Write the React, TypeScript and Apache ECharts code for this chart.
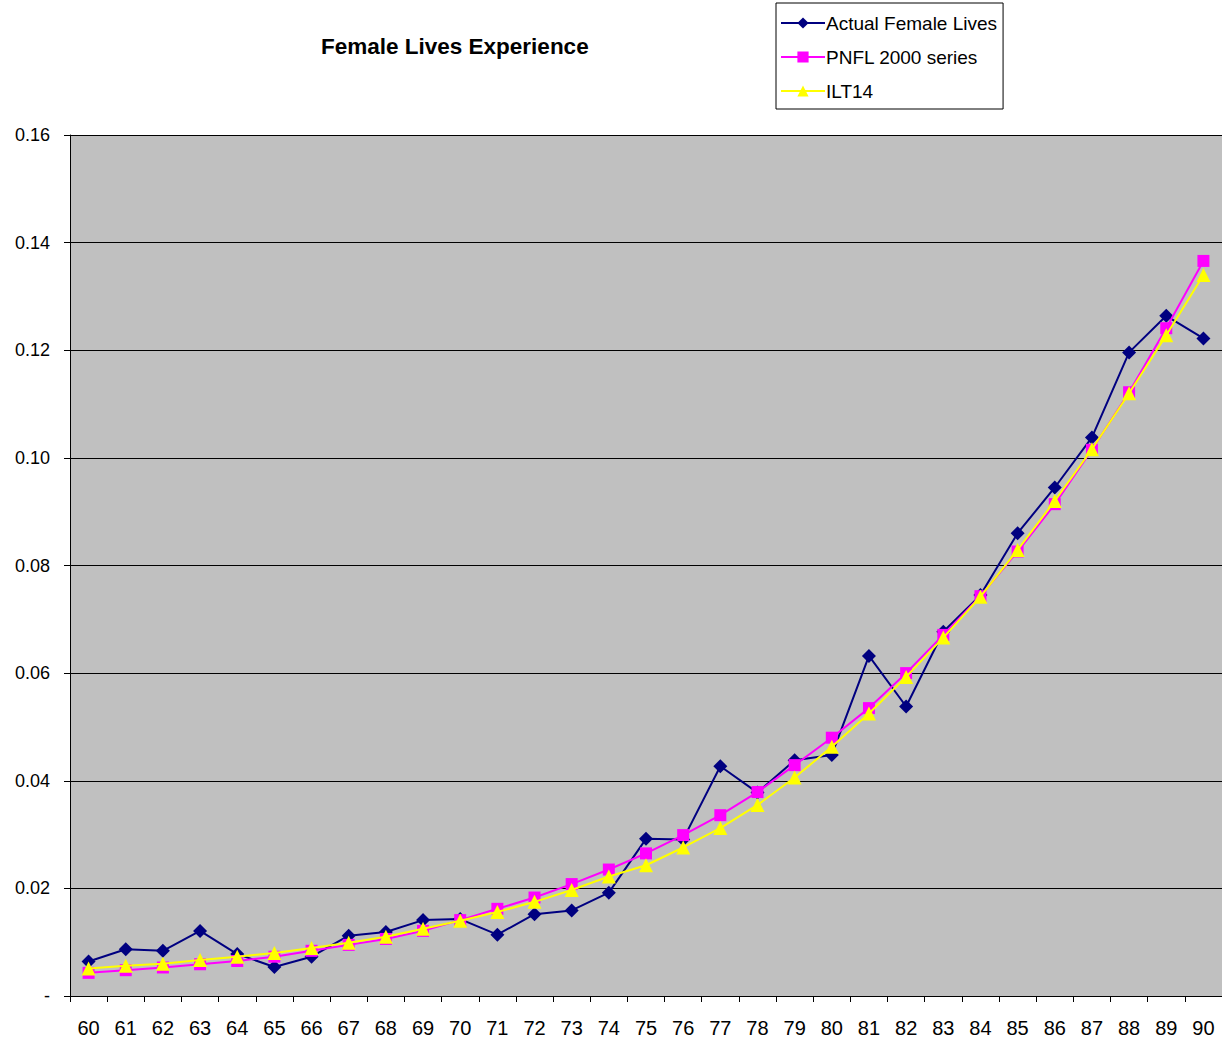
import React, { useEffect, useRef } from "react";
import * as echarts from "echarts";

const ages = ["60","61","62","63","64","65","66","67","68","69","70","71","72","73","74","75","76","77","78","79","80","81","82","83","84","85","86","87","88","89","90"];
const actualFemale = [0.0064,0.0087,0.0084,0.0121,0.0078,0.0054,0.0073,0.0112,0.0119,0.0141,0.0143,0.0114,0.0152,0.0159,0.0192,0.0292,0.0291,0.0427,0.0378,0.0438,0.0448,0.0632,0.0538,0.0677,0.0745,0.0860,0.0945,0.1038,0.1196,0.1264,0.1222];
const pnfl2000 = [0.0043,0.0048,0.0053,0.0059,0.0065,0.0073,0.0084,0.0095,0.0106,0.0121,0.0141,0.0162,0.0183,0.0208,0.0235,0.0265,0.0299,0.0336,0.0379,0.0429,0.0480,0.0535,0.0600,0.0671,0.0743,0.0826,0.0914,0.1015,0.1122,0.1241,0.1366];
const ilt14 = [0.0051,0.0056,0.0060,0.0067,0.0073,0.0080,0.0089,0.0099,0.0110,0.0125,0.0140,0.0156,0.0175,0.0197,0.0222,0.0243,0.0276,0.0312,0.0355,0.0406,0.0463,0.0525,0.0593,0.0666,0.0742,0.0829,0.0920,0.1016,0.1120,0.1228,0.1340];

const FONT = "'Liberation Sans', Arial, sans-serif";

export default function App() {
  const ref = useRef<HTMLDivElement>(null);
  useEffect(() => {
    if (!ref.current) return;
    const chart = echarts.init(ref.current, null, { renderer: "svg" });
    chart.setOption({
      animation: false,
      backgroundColor: "#ffffff",
      title: {
        text: "Female Lives Experience",
        left: 316,
        top: 30,
        textStyle: { fontFamily: FONT, fontSize: 22.5, fontWeight: "bold", color: "#000" },
      },
      legend: {
        orient: "vertical",
        left: 776,
        top: 3,
        backgroundColor: "#ffffff",
        borderColor: "#000",
        borderWidth: 1,
        borderRadius: 0,
        padding: [10, 6, 8, 4],
        itemWidth: 44,
        itemHeight: 14,
        itemGap: 14,
        textStyle: { fontFamily: FONT, fontSize: 19, color: "#000", lineHeight: 20, padding: [0, 0, 0, -4] },
        data: ["Actual Female Lives", "PNFL 2000 series", "ILT14"],
      },
      grid: {
        left: 70,
        top: 135,
        width: 1154,
        bottom: 48,
        show: true,
        backgroundColor: "#C0C0C0",
        borderWidth: 0,
      },
      xAxis: {
        type: "category",
        data: ages,
        boundaryGap: true,
        axisLine: { show: true, lineStyle: { color: "#000", width: 1 } },
        axisTick: { show: true, alignWithLabel: false, length: 6, lineStyle: { color: "#000" } },
        axisLabel: { fontFamily: FONT, fontSize: 20, color: "#000", margin: 22, interval: 0 },
        splitLine: { show: false },
      },
      yAxis: {
        type: "value",
        min: 0,
        max: 0.16,
        interval: 0.02,
        axisLine: { show: true, lineStyle: { color: "#000", width: 1 } },
        axisTick: { show: true, length: 6, lineStyle: { color: "#000" } },
        axisLabel: {
          fontFamily: FONT,
          fontSize: 18,
          color: "#000",
          margin: 20,
          formatter: (v: number) => (v === 0 ? "-" : v.toFixed(2)),
        },
        splitLine: { show: true, lineStyle: { color: "#000", width: 1 } },
      },
      series: [
        {
          name: "Actual Female Lives",
          type: "line",
          data: actualFemale,
          symbol: "diamond",
          symbolSize: 14,
          color: "#000080",
          lineStyle: { color: "#000080", width: 2 },
          itemStyle: { color: "#000080" },
          z: 2,
        },
        {
          name: "PNFL 2000 series",
          type: "line",
          data: pnfl2000,
          symbol: "rect",
          symbolSize: 12,
          color: "#FF00FF",
          lineStyle: { color: "#FF00FF", width: 2 },
          itemStyle: { color: "#FF00FF" },
          z: 3,
        },
        {
          name: "ILT14",
          type: "line",
          data: ilt14,
          symbol: "triangle",
          symbolSize: 14,
          color: "#FFFF00",
          lineStyle: { color: "#FFFF00", width: 2 },
          itemStyle: { color: "#FFFF00" },
          z: 4,
        },
      ],
    });
    return () => chart.dispose();
  }, []);
  return (
    <div
      ref={ref}
      style={{ position: "fixed", left: 0, top: 0, width: 1222, height: 1044 }}
    />
  );
}
